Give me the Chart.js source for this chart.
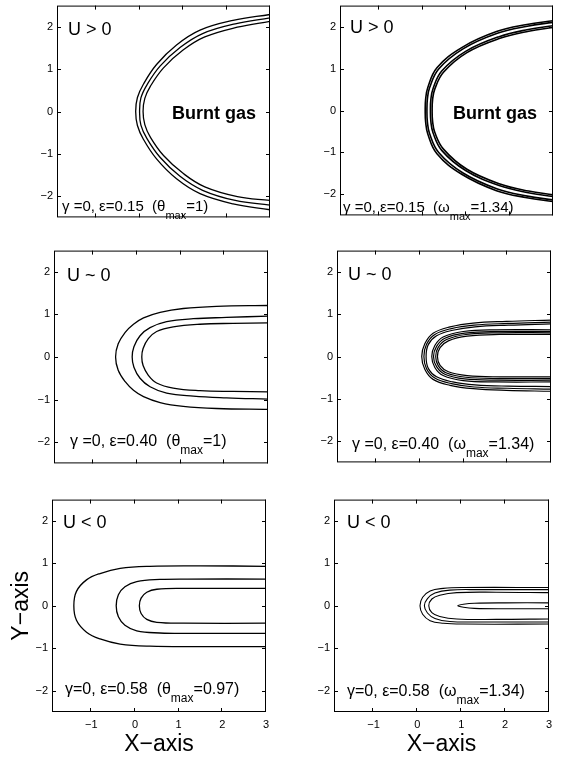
<!DOCTYPE html>
<html>
<head>
<meta charset="utf-8">
<script src="https://cdn.jsdelivr.net/npm/chart.js@4"></script>
<style>
  body { margin: 0; background: #fff; width: 561px; height: 758px; overflow: hidden; position: relative; }
  canvas { position: absolute; }
</style>
</head>
<body>
<script>
// Contour curves, one [x...] / [y...] pair per line
const X_TICKS = [-1, 0, 1, 2, 3];
const Y_TICKS = [-2, -1, 0, 1, 2];
const X_RANGE = [-1.9, 3];
const Y_RANGE = [-2.5, 2.5];

// theta, U > 0
const P1_X = [
  [3.00, 2.15, 1.39, 0.85, 0.39, 0.09, -0.05, -0.09, -0.05, 0.09, 0.39, 0.85, 1.39, 2.15, 3.00],
  [3.00, 2.20, 1.45, 0.93, 0.47, 0.17, 0.03, 0.00, 0.03, 0.17, 0.47, 0.93, 1.45, 2.20, 3.00],
  [3.00, 2.25, 1.50, 1.00, 0.55, 0.25, 0.12, 0.08, 0.12, 0.25, 0.55, 1.00, 1.50, 2.25, 3.00]
];
const P1_Y = [
  [2.29, 2.15, 1.92, 1.57, 1.11, 0.65, 0.33, 0.00, -0.33, -0.66, -1.12, -1.59, -1.94, -2.18, -2.32],
  [2.21, 2.07, 1.84, 1.51, 1.07, 0.63, 0.32, 0.00, -0.32, -0.64, -1.08, -1.53, -1.86, -2.10, -2.21],
  [2.13, 1.99, 1.76, 1.45, 1.03, 0.60, 0.31, 0.00, -0.31, -0.61, -1.04, -1.46, -1.78, -2.01, -2.10]
];

// omega, U > 0
const P2_X = [
  [3.00, 2.40, 1.70, 0.90, 0.33, 0.12, 0.07, 0.06, 0.07, 0.12, 0.33, 0.90, 1.70, 2.40, 3.00],
  [3.00, 2.41, 1.72, 0.93, 0.37, 0.16, 0.11, 0.10, 0.11, 0.16, 0.37, 0.93, 1.72, 2.41, 3.00],
  [3.00, 2.43, 1.76, 0.99, 0.44, 0.24, 0.19, 0.18, 0.19, 0.24, 0.44, 0.99, 1.76, 2.43, 3.00],
  [3.00, 2.44, 1.78, 1.02, 0.48, 0.28, 0.23, 0.22, 0.23, 0.28, 0.48, 1.02, 1.78, 2.44, 3.00]
];
const P2_Y = [
  [2.14, 2.05, 1.88, 1.50, 1.02, 0.55, 0.27, 0.00, -0.27, -0.56, -1.03, -1.52, -1.91, -2.08, -2.17],
  [2.10, 2.01, 1.84, 1.47, 0.99, 0.54, 0.27, 0.00, -0.27, -0.55, -1.00, -1.49, -1.87, -2.04, -2.13],
  [2.02, 1.93, 1.76, 1.41, 0.94, 0.52, 0.26, 0.00, -0.26, -0.53, -0.95, -1.43, -1.79, -1.96, -2.05],
  [1.98, 1.89, 1.72, 1.38, 0.91, 0.51, 0.26, 0.00, -0.26, -0.52, -0.92, -1.40, -1.75, -1.92, -2.01]
];

// theta, U ~ 0
const P3_X = [
  [3.00, 1.82, 1.06, 0.53, 0.15, -0.08, -0.27, -0.43, -0.49, -0.43, -0.27, -0.08, 0.15, 0.53, 1.06, 1.82, 3.00],
  [3.00, 2.05, 1.29, 0.68, 0.30, 0.07, -0.07, -0.11, -0.07, 0.07, 0.30, 0.68, 1.29, 2.05, 3.00],
  [3.00, 2.20, 1.44, 0.83, 0.45, 0.26, 0.14, 0.11, 0.14, 0.26, 0.45, 0.83, 1.44, 2.20, 3.00]
];
const P3_Y = [
  [1.21, 1.19, 1.14, 1.05, 0.92, 0.77, 0.58, 0.31, 0.00, -0.31, -0.58, -0.78, -0.93, -1.07, -1.16, -1.21, -1.23],
  [0.96, 0.93, 0.90, 0.83, 0.69, 0.50, 0.24, 0.00, -0.24, -0.50, -0.70, -0.85, -0.92, -0.96, -0.99],
  [0.80, 0.79, 0.77, 0.71, 0.60, 0.43, 0.20, 0.00, -0.20, -0.43, -0.61, -0.73, -0.79, -0.81, -0.82]
];

// omega, U ~ 0 (outer band of 3 lines, inner band of 4)
const P4_X = [
  [3.00, 1.98, 1.22, 0.69, 0.30, 0.11, 0.04, 0.11, 0.30, 0.69, 1.22, 1.98, 3.00],
  [3.00, 2.00, 1.24, 0.72, 0.34, 0.15, 0.09, 0.15, 0.34, 0.72, 1.24, 2.00, 3.00],
  [3.00, 2.02, 1.26, 0.75, 0.38, 0.19, 0.14, 0.19, 0.38, 0.75, 1.26, 2.02, 3.00],
  [3.00, 1.76, 0.99, 0.53, 0.34, 0.27, 0.34, 0.53, 0.99, 1.76, 3.00],
  [3.00, 1.78, 1.02, 0.57, 0.38, 0.31, 0.38, 0.57, 1.02, 1.78, 3.00],
  [3.00, 1.80, 1.05, 0.61, 0.42, 0.36, 0.42, 0.61, 1.05, 1.80, 3.00],
  [3.00, 1.82, 1.08, 0.65, 0.46, 0.40, 0.46, 0.65, 1.08, 1.82, 3.00]
];
const P4_Y = [
  [0.86, 0.83, 0.79, 0.70, 0.55, 0.30, 0.00, -0.30, -0.54, -0.68, -0.76, -0.80, -0.82],
  [0.81, 0.78, 0.74, 0.66, 0.52, 0.29, 0.00, -0.29, -0.51, -0.64, -0.72, -0.75, -0.77],
  [0.77, 0.74, 0.70, 0.62, 0.49, 0.28, 0.00, -0.28, -0.48, -0.60, -0.67, -0.70, -0.71],
  [0.63, 0.63, 0.59, 0.46, 0.26, 0.00, -0.26, -0.45, -0.57, -0.60, -0.60],
  [0.59, 0.59, 0.55, 0.43, 0.24, 0.00, -0.24, -0.42, -0.53, -0.56, -0.56],
  [0.56, 0.56, 0.52, 0.40, 0.22, 0.00, -0.22, -0.39, -0.49, -0.52, -0.52],
  [0.52, 0.52, 0.48, 0.37, 0.21, 0.00, -0.21, -0.36, -0.45, -0.48, -0.48]
];

// theta, U < 0
const P5_X = [
  [3.00, 1.49, 0.34, -0.34, -0.80, -1.11, -1.34, -1.40, -1.34, -1.11, -0.80, -0.34, 0.34, 1.49, 3.00],
  [3.00, 1.20, 0.57, 0.04, -0.23, -0.38, -0.43, -0.38, -0.23, 0.04, 0.57, 1.20, 3.00],
  [3.00, 1.11, 0.50, 0.27, 0.14, 0.10, 0.14, 0.27, 0.50, 1.11, 3.00]
];
const P5_Y = [
  [0.93, 0.94, 0.93, 0.88, 0.76, 0.61, 0.34, 0.00, -0.34, -0.62, -0.78, -0.90, -0.95, -0.96, -0.96],
  [0.63, 0.63, 0.62, 0.57, 0.45, 0.26, 0.00, -0.26, -0.46, -0.59, -0.64, -0.65, -0.65],
  [0.41, 0.41, 0.39, 0.32, 0.18, 0.00, -0.18, -0.32, -0.39, -0.41, -0.41]
];

// omega, U < 0
const P6_X = [
  [3.00, 1.05, 0.59, 0.29, 0.12, 0.06, 0.12, 0.29, 0.59, 1.05, 3.00],
  [3.00, 1.43, 0.74, 0.40, 0.23, 0.16, 0.23, 0.40, 0.74, 1.43, 3.00],
  [3.00, 1.80, 0.90, 0.51, 0.33, 0.26, 0.33, 0.51, 0.90, 1.80, 3.00],
  [3.00, 2.00, 1.30, 1.05, 0.92, 1.05, 1.30, 2.00, 3.00]
];
const P6_Y = [
  [0.43, 0.43, 0.41, 0.35, 0.20, 0.00, -0.20, -0.35, -0.41, -0.43, -0.43],
  [0.38, 0.38, 0.37, 0.30, 0.17, 0.00, -0.17, -0.30, -0.37, -0.38, -0.38],
  [0.31, 0.32, 0.31, 0.25, 0.16, 0.00, -0.16, -0.25, -0.31, -0.32, -0.31],
  [0.07, 0.07, 0.06, 0.035, 0.00, -0.035, -0.06, -0.07, -0.07]
];

const FONT = "'Liberation Sans', Arial, Helvetica, sans-serif";

// box = chart area in page pixels [left, top, right, bottom]
const PANELS = [
  { box: [57, 3, 270, 220], xs: P1_X, ys: P1_Y, lw: 1.3, tag: 'U > 0', tagAt: [11, 29],
    burnt: [115, 113.5], note: ['γ =0, ε=0.15  (θ', 'max', '=1)'], noteAt: [5, 205], noteSize: 15 },
  { box: [340, 3, 553, 218], xs: P2_X, ys: P2_Y, lw: 1.6, tag: 'U > 0', tagAt: [10, 27],
    burnt: [113, 113.5], note: ['γ =0, ε=0.15  (ω', 'max', '=1.34)'], noteAt: [3, 206], noteSize: 15 },
  { box: [54, 248, 268, 466], xs: P3_X, ys: P3_Y, lw: 1.3, tag: 'U ~ 0', tagAt: [13, 30],
    note: ['γ =0, ε=0.40  (θ', 'max', '=1)'], noteAt: [16, 195], noteSize: 16 },
  { box: [337, 248, 551, 465], xs: P4_X, ys: P4_Y, lw: 1.2, tag: 'U ~ 0', tagAt: [11, 29],
    note: ['γ =0, ε=0.40  (ω', 'max', '=1.34)'], noteAt: [15, 198], noteSize: 16 },
  { box: [52, 497, 266, 712], xs: P5_X, ys: P5_Y, lw: 1.3, tag: 'U < 0', tagAt: [11, 28],
    note: ['γ=0, ε=0.58  (θ', 'max', '=0.97)'], noteAt: [13, 194], noteSize: 16, yTitle: 'Y−axis' },
  { box: [334, 497, 549, 712], xs: P6_X, ys: P6_Y, lw: 1.1, tag: 'U < 0', tagAt: [13, 28],
    note: ['γ=0, ε=0.58  (ω', 'max', '=1.34)'], noteAt: [13, 196], noteSize: 16 }
];

const LEFT_GUTTER = 50;
const PAGE_H = 758;

const minus = v => String(v).replace('-', '\u2212');

// box, inward ticks on all four sides, and the panel texts
const panelPlugin = {
  id: 'panelDecor',
  afterDraw(chart, args, opts) {
    const { ctx, chartArea: a, scales: { x, y } } = chart;
    ctx.save();
    ctx.strokeStyle = '#000';
    ctx.lineWidth = 1;
    ctx.strokeRect(a.left + 0.5, a.top + 0.5, a.right - a.left - 1, a.bottom - a.top - 1);
    ctx.beginPath();
    X_TICKS.forEach(v => {
      const px = Math.round(x.getPixelForValue(v)) - 0.5;
      ctx.moveTo(px, a.bottom); ctx.lineTo(px, a.bottom - 4);
      ctx.moveTo(px, a.top); ctx.lineTo(px, a.top + 4);
    });
    Y_TICKS.forEach(v => {
      const py = Math.round(y.getPixelForValue(v)) + 0.5;
      ctx.moveTo(a.left, py); ctx.lineTo(a.left + 4, py);
      ctx.moveTo(a.right, py); ctx.lineTo(a.right - 4, py);
    });
    ctx.stroke();

    ctx.fillStyle = '#000';
    ctx.textBaseline = 'alphabetic';
    ctx.textAlign = 'left';
    ctx.font = '18px ' + FONT;
    ctx.fillText(opts.tag, a.left + opts.tagAt[0], a.top + opts.tagAt[1]);

    if (opts.burnt) {
      ctx.font = 'bold 18px ' + FONT;
      ctx.fillText('Burnt gas', a.left + opts.burnt[0], a.top + opts.burnt[1]);
    }

    // note with subscript
    const [pre, sub, post] = opts.note;
    let nx = a.left + opts.noteAt[0];
    const ny = a.top + opts.noteAt[1];
    ctx.font = opts.noteSize + 'px ' + FONT;
    ctx.fillText(pre, nx, ny);
    nx += ctx.measureText(pre).width;
    ctx.font = (opts.noteSize - 4) + 'px ' + FONT;
    ctx.fillText(sub, nx, ny + 8);
    nx += ctx.measureText(sub).width;
    ctx.font = opts.noteSize + 'px ' + FONT;
    ctx.fillText(post, nx, ny);
    ctx.restore();
  }
};

function makePanel(p, i) {
  const [L, T, R, B] = p.box;
  const bottomRow = i >= 4;
  const canvas = document.createElement('canvas');
  canvas.width = R - L + LEFT_GUTTER + 10;
  canvas.height = bottomRow ? PAGE_H - T + 8 : B - T + 16;
  canvas.style.left = (L - LEFT_GUTTER) + 'px';
  canvas.style.top = (T - 8) + 'px';
  document.body.appendChild(canvas);

  const datasets = p.xs.map((xs, k) => ({
    data: xs.map((xv, j) => ({ x: xv, y: p.ys[k][j] })),
    showLine: true,
    borderColor: '#000',
    borderWidth: p.lw,
    pointRadius: 0,
    fill: false,
    tension: 0.4
  }));

  new Chart(canvas.getContext('2d'), {
    type: 'scatter',
    data: { datasets },
    options: {
      responsive: false,
      animation: false,
      events: [],
      layout: { padding: { left: 0, top: 8, right: 10, bottom: bottomRow ? 0 : 8 } },
      plugins: {
        legend: { display: false },
        tooltip: { enabled: false },
        panelDecor: p
      },
      scales: {
        x: {
          type: 'linear',
          min: X_RANGE[0],
          max: X_RANGE[1],
          grid: { display: false, drawTicks: false },
          border: { display: false },
          ticks: {
            display: bottomRow,
            color: '#000',
            font: { family: FONT, size: 11 },
            padding: 6,
            maxRotation: 0,
            autoSkip: false,
            callback: minus
          },
          afterBuildTicks: s => { s.ticks = X_TICKS.map(v => ({ value: v })); },
          afterFit: s => { s.height = bottomRow ? PAGE_H - B : 0; },
          title: {
            display: bottomRow,
            text: 'X−axis',
            color: '#000',
            font: { family: FONT, size: 23 },
            padding: 0
          }
        },
        y: {
          type: 'linear',
          min: Y_RANGE[0],
          max: Y_RANGE[1],
          grid: { display: false, drawTicks: false },
          border: { display: false },
          ticks: {
            color: '#000',
            font: { family: FONT, size: 11 },
            padding: 4,
            autoSkip: false,
            callback: minus
          },
          afterBuildTicks: s => { s.ticks = Y_TICKS.map(v => ({ value: v })); },
          afterFit: s => { s.width = LEFT_GUTTER; },
          title: {
            display: !!p.yTitle,
            text: p.yTitle || '',
            color: '#000',
            font: { family: FONT, size: 23 },
            padding: { top: 6, bottom: 0 }
          }
        }
      }
    },
    plugins: [panelPlugin]
  });
}

document.addEventListener('DOMContentLoaded', () => {
  PANELS.forEach(makePanel);
});
</script>
</body>
</html>
